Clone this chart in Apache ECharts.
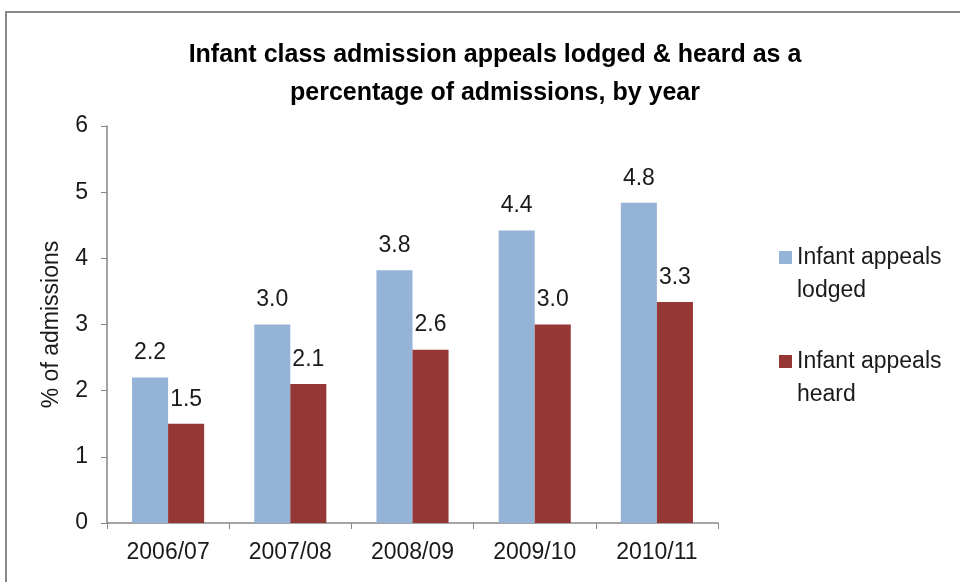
<!DOCTYPE html>
<html>
<head>
<meta charset="utf-8">
<script src="https://cdn.jsdelivr.net/npm/echarts@6/dist/echarts.min.js"></script>
<style>
  html, body { margin: 0; padding: 0; background: #fff; }
  #container { width: 960px; height: 582px; }
</style>
</head>
<body>
<div id="container"></div>
<script>
var years = ["2006/07", "2007/08", "2008/09", "2009/10", "2010/11"];
var lodged = [2.2, 3.0, 3.82, 4.42, 4.84];
var heard = [1.5, 2.1, 2.62, 3.0, 3.34];
var seriesNames = ["Infant appeals lodged", "Infant appeals heard"];
var legendLabels = ["Infant appeals\nlodged", "Infant appeals\nheard"];
var yTicks = [0, 1, 2, 3, 4, 5, 6];

var font = "Liberation Sans";
var dom = document.getElementById("container");
var myChart = echarts.init(dom);

// square sits at the top of a taller icon box so it lines up with the first text line
var legendIcon = "path://M0,0 L13,0 L13,13 L0,13 Z M0,45.99 L0.01,45.99 L0.01,46 L0,46 Z";

var barLabel = {
  show: true,
  position: "top",
  distance: 13,
  fontFamily: font,
  fontSize: 23,
  color: "#1a1a1a",
  formatter: function(p) { return p.value.toFixed(1); }
};

var option = {
  animation: false,
  textStyle: { fontFamily: font },
  graphic: [{
    type: "rect",
    shape: { x: 6, y: 12, width: 1000, height: 1000 },
    style: { fill: "none", stroke: "#888", lineWidth: 2 },
    silent: true
  }],
  title: {
    text: "Infant class admission appeals lodged & heard as a\npercentage of admissions, by year",
    left: 490,
    textAlign: "center",
    top: 31,
    textStyle: {
      fontFamily: font,
      fontSize: 25,
      fontWeight: "bold",
      lineHeight: 38,
      color: "#000"
    }
  },
  legend: {
    orient: "vertical",
    left: 774,
    top: 236,
    itemWidth: 13,
    itemHeight: 46,
    itemGap: 38,
    icon: legendIcon,
    data: seriesNames,
    formatter: function(name) { return legendLabels[seriesNames.indexOf(name)]; },
    textStyle: {
      fontFamily: font,
      fontSize: 23,
      lineHeight: 33,
      color: "#1a1a1a"
    }
  },
  grid: { left: 107, right: 242, top: 126, bottom: 59 },
  xAxis: {
    type: "category",
    data: years,
    axisLine: { lineStyle: { color: "#868686", width: 1.5 } },
    axisTick: { show: true, length: 6, lineStyle: { color: "#868686" } },
    axisLabel: { fontFamily: font, fontSize: 23, color: "#1a1a1a", margin: 18 }
  },
  yAxis: {
    type: "value",
    min: yTicks[0],
    max: yTicks[yTicks.length - 1],
    interval: 1,
    name: "% of admissions",
    nameLocation: "middle",
    nameGap: 44,
    nameTextStyle: { fontFamily: font, fontSize: 23, color: "#1a1a1a" },
    axisLine: { show: true, lineStyle: { color: "#868686", width: 1.5 } },
    axisTick: { show: true, length: 6, lineStyle: { color: "#868686" } },
    splitLine: { show: false },
    axisLabel: { fontFamily: font, fontSize: 23, color: "#1a1a1a", margin: 19 }
  },
  series: [
    {
      name: seriesNames[0],
      type: "bar",
      data: lodged,
      barGap: "0%",
      barCategoryGap: "41%",
      itemStyle: { color: "#95b3d7" },
      label: barLabel
    },
    {
      name: seriesNames[1],
      type: "bar",
      data: heard,
      itemStyle: { color: "#953735" },
      label: barLabel
    }
  ]
};

myChart.setOption(option, true);
</script>
</body>
</html>
